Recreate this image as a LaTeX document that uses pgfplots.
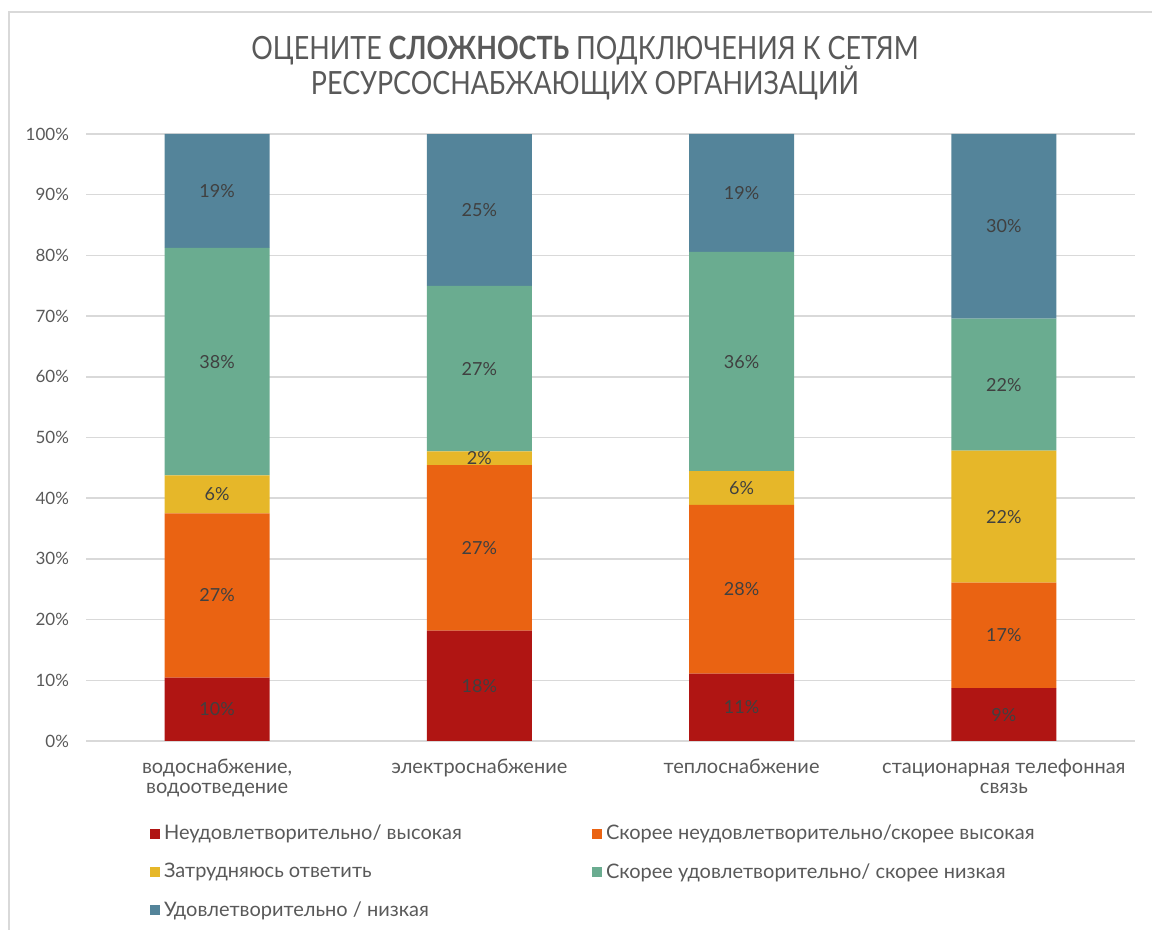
\documentclass[border=0pt]{standalone}
\usepackage{graphicx}
\usepackage{pgfplots}
\usepackage{pgfplotstable}
\pgfplotsset{compat=1.18}
\usepackage{fontspec}
\setmainfont{Lato}
\definecolor{c1}{HTML}{B01513}
\definecolor{c2}{HTML}{EA6312}
\definecolor{c3}{HTML}{E6B729}
\definecolor{c4}{HTML}{6AAC90}
\definecolor{c5}{HTML}{54849A}
\definecolor{txt}{HTML}{595959}
\definecolor{lbl}{HTML}{404040}
\definecolor{gridc}{HTML}{D9D9D9}
\pgfplotstableread{
x a b c d e
0 10.42 27.08 6.25 37.50 18.75
1 18.18 27.27 2.27 27.27 25.00
2 11.11 27.78 5.56 36.11 19.44
3 8.70 17.39 21.74 21.74 30.43
}\data
\begin{document}
\begin{tikzpicture}
\path[use as bounding box] (0,0) rectangle (576pt,465pt);
\draw[color=gridc, line width=1pt] (4.25pt,0) -- (4.25pt,459pt) -- (576pt,459pt);
\node[text=txt, font=\fontsize{16}{17.5}\selectfont, align=center] at (292.5pt,431pt) {\scalebox{0.84}[1]{ОЦЕНИТЕ \textbf{СЛОЖНОСТЬ} ПОДКЛЮЧЕНИЯ К СЕТЯМ}\\\scalebox{0.84}[1]{РЕСУРСОСНАБЖАЮЩИХ ОРГАНИЗАЦИЙ}};
\coordinate (A) at (43pt,94.5pt);
\begin{axis}[
  at={(A)}, anchor=south west,
  scale only axis, width=524.5pt, height=303.5pt,
  ybar stacked, bar width=52.5pt,
  xmin=-0.5, xmax=3.5, ymin=0, ymax=100,
  /pgf/number format/assume math mode=true,
  ytick={0,10,...,100},
  yticklabel={\pgfmathprintnumber{\tick}\%},
  xtick={0,1,2,3},
  xticklabels={{водоснабжение,\\водоотведение},{электроснабжение},{теплоснабжение},{стационарная телефонная\\связь}},
  xticklabel style={align=center, font=\fontsize{10}{10}\selectfont, text=txt, yshift=-5.5pt},
  yticklabel style={font=\fontsize{8.5}{10}\selectfont, text=txt, xshift=-5pt},
  major tick length=0pt,
  ymajorgrids, grid style={color=gridc, line width=0.75pt},
  axis lines*=left,
  x axis line style={-, draw=gridc, line width=0.75pt},
  y axis line style={draw=none},
  visualization depends on=rawy \as \rawy,
  nodes near coords={\pgfmathprintnumber[fixed,precision=0]{\rawy}\%},
  every node near coord/.append style={anchor=center, font=\fontsize{9}{10}\selectfont, text=lbl},
  legend columns=2,
  legend style={at={(axis description cs:0.055,-0.125)}, anchor=north west, draw=none, fill=none,
    font=\fontsize{10}{11}\selectfont, text=txt, row sep=6.2pt, column sep=0pt},
  legend cell align=left,
  legend image code/.code={\fill[#1] (0pt,-2.5pt) rectangle (5pt,2.5pt);},
]
\addplot[fill=c1, draw=none] table[x=x,y=a]{\data};
\addlegendentry{\makebox[212pt][l]{Неудовлетворительно/ высокая}}
\addplot[fill=c2, draw=none] table[x=x,y=b]{\data};
\addlegendentry{Скорее неудовлетворительно/скорее высокая}
\addplot[fill=c3, draw=none] table[x=x,y=c]{\data};
\addlegendentry{\makebox[212pt][l]{Затрудняюсь ответить}}
\addplot[fill=c4, draw=none] table[x=x,y=d]{\data};
\addlegendentry{Скорее удовлетворительно/ скорее низкая}
\addplot[fill=c5, draw=none] table[x=x,y=e]{\data};
\addlegendentry{\makebox[212pt][l]{Удовлетворительно / низкая}}
\end{axis}
\end{tikzpicture}
\end{document}
